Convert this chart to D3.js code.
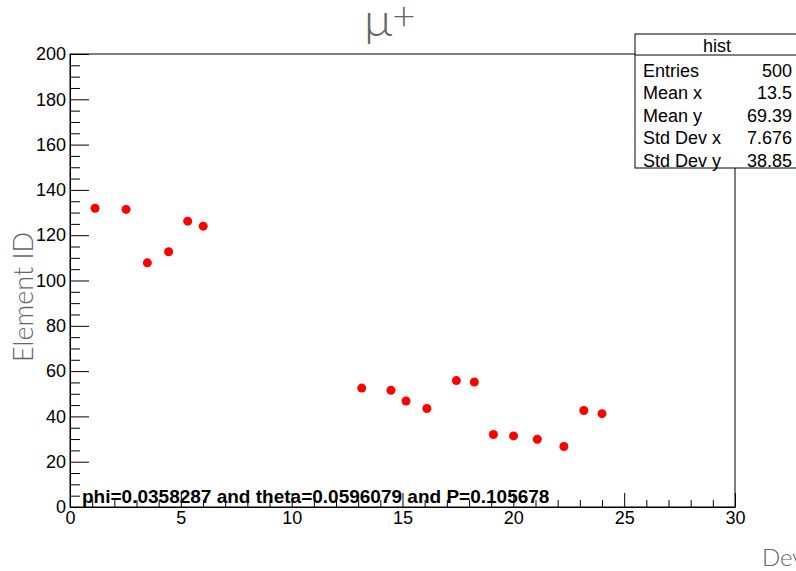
<!DOCTYPE html>
<html>
<head>
<meta charset="utf-8">
<script src="https://cdn.jsdelivr.net/npm/d3@7"></script>
<style>
	body { margin: 0; background: #fff; }
	svg { display: block; }
</style>
</head>
<body>
<svg id="svg1"></svg>
<script>
// values
xVals = [1.13, 2.53, 3.49, 4.45, 5.31, 6.01, 13.16, 14.48, 15.16, 16.1, 17.43, 18.24, 19.1, 20.01, 21.08, 22.28, 23.18, 24.0];
yVals = [131.9, 131.4, 107.8, 112.7, 126.2, 124.0, 52.5, 51.5, 46.8, 43.5, 55.8, 55.2, 32.0, 31.4, 29.9, 26.7, 42.6, 41.2];

xMajorTicks = [0, 5, 10, 15, 20, 25, 30];
yMajorTicks = [0, 20, 40, 60, 80, 100, 120, 140, 160, 180, 200];

statsTitle = "hist";
statsLabels = ["Entries", "Mean x", "Mean y", "Std Dev x", "Std Dev y"];
statsValues = ["500", "13.5", "69.39", "7.676", "38.85"];

note = "phi=0.0358287 and theta=0.0596079 and P=0.105678";

settings = {
	width: 796,
	height: 571,
	left: 70,
	right: 735,
	top: 54,
	bottom: 507
}

function draw() {
	var x = d3.scaleLinear().domain([0, 30]).range([settings.left, settings.right]);
	var y = d3.scaleLinear().domain([0, 200]).range([settings.bottom, settings.top]);

	svg = d3.select("#svg1")
		.attr("width", settings.width)
		.attr("height", settings.height)
		.style("font-family", "'Liberation Sans', Arial, sans-serif");

	// frame
	svg.append("rect")
		.attr("x", settings.left).attr("y", settings.top)
		.attr("width", settings.right - settings.left)
		.attr("height", settings.bottom - settings.top)
		.attr("fill", "none").attr("stroke", "#000").attr("stroke-width", 1);

	// x axis - minor then major
	var xMinor = d3.range(0, 31, 1).filter(v => v % 5 != 0);
	svg.append("g")
		.attr("transform", "translate(0," + settings.bottom + ")")
		.call(d3.axisBottom(x).tickValues(xMinor).tickSize(-7).tickFormat(""))
		.call(g => g.select(".domain").remove());
	svg.append("g")
		.attr("class", "xaxis")
		.attr("transform", "translate(0," + settings.bottom + ")")
		.call(d3.axisBottom(x).tickValues(xMajorTicks).tickSize(-14).tickSizeOuter(0).tickPadding(4).tickFormat(d3.format("d")))
		.call(g => g.selectAll("text").attr("font-size", 18).attr("fill", "#000").attr("font-family", null));

	// y axis
	var yMinor = d3.range(0, 201, 5).filter(v => v % 20 != 0);
	svg.append("g")
		.attr("transform", "translate(" + settings.left + ",0)")
		.call(d3.axisLeft(y).tickValues(yMinor).tickSize(-10).tickFormat(""))
		.call(g => g.select(".domain").remove());
	svg.append("g")
		.attr("transform", "translate(" + settings.left + ",0)")
		.call(d3.axisLeft(y).tickValues(yMajorTicks).tickSize(-19).tickSizeOuter(0).tickPadding(4).tickFormat(d3.format("d")))
		.call(g => g.selectAll("text").attr("font-size", 18).attr("fill", "#000").attr("font-family", null));

	svg.selectAll(".tick line").attr("stroke", "#000");

	// points
	var pts = xVals.map((d, i) => [d, yVals[i]]);
	svg.append("g")
		.selectAll("circle")
		.data(pts)
		.enter().append("circle")
		.attr("cx", d => x(d[0]))
		.attr("cy", d => y(d[1]))
		.attr("r", 4.5)
		.attr("fill", "#ff0000");

	// annotation
	svg.append("text")
		.attr("x", 82).attr("y", 503)
		.attr("font-size", 19).attr("font-weight", "bold")
		.attr("fill", "#000")
		.text(note);

	// title
	var t = svg.append("text")
		.attr("x", 364).attr("y", 36)
		.attr("font-family", "Lato").attr("font-weight", 300)
		.attr("fill", "#666")
		.attr("font-size", 48);
	t.append("tspan").text("μ");
	t.append("tspan").attr("font-size", 40).attr("dy", -6).text("+");

	// axis titles
	svg.append("text")
		.attr("transform", "translate(33,297) rotate(-90)")
		.attr("text-anchor", "middle")
		.attr("font-family", "Lato").attr("font-weight", 300)
		.attr("font-size", 27).attr("fill", "#666")
		.text("Element ID");

	svg.append("text")
		.attr("x", 762).attr("y", 566)
		.attr("font-family", "Lato").attr("font-weight", 300)
		.attr("font-size", 24).attr("fill", "#666")
		.text("Device ID");

	// stats box
	var bx = 635, by = 34, bw = 170, rowH = 22.4;
	var box = svg.append("g");
	box.append("rect")
		.attr("x", bx).attr("y", by)
		.attr("width", bw).attr("height", 134)
		.attr("fill", "#fff").attr("stroke", "#000");
	box.append("line")
		.attr("x1", bx).attr("x2", bx + bw)
		.attr("y1", by + 21).attr("y2", by + 21)
		.attr("stroke", "#000");
	box.append("text")
		.attr("x", 717).attr("y", by + 18)
		.attr("text-anchor", "middle")
		.attr("font-size", 18).attr("fill", "#000")
		.text(statsTitle);
	statsLabels.forEach((lab, i) => {
		box.append("text")
			.attr("x", 643).attr("y", by + 43 + i * rowH)
			.attr("font-size", 18).attr("fill", "#000")
			.text(lab);
		box.append("text")
			.attr("x", 792).attr("y", by + 43 + i * rowH)
			.attr("text-anchor", "end")
			.attr("font-size", 18).attr("fill", "#000")
			.text(statsValues[i]);
	});
}

draw();
</script>
</body>
</html>
